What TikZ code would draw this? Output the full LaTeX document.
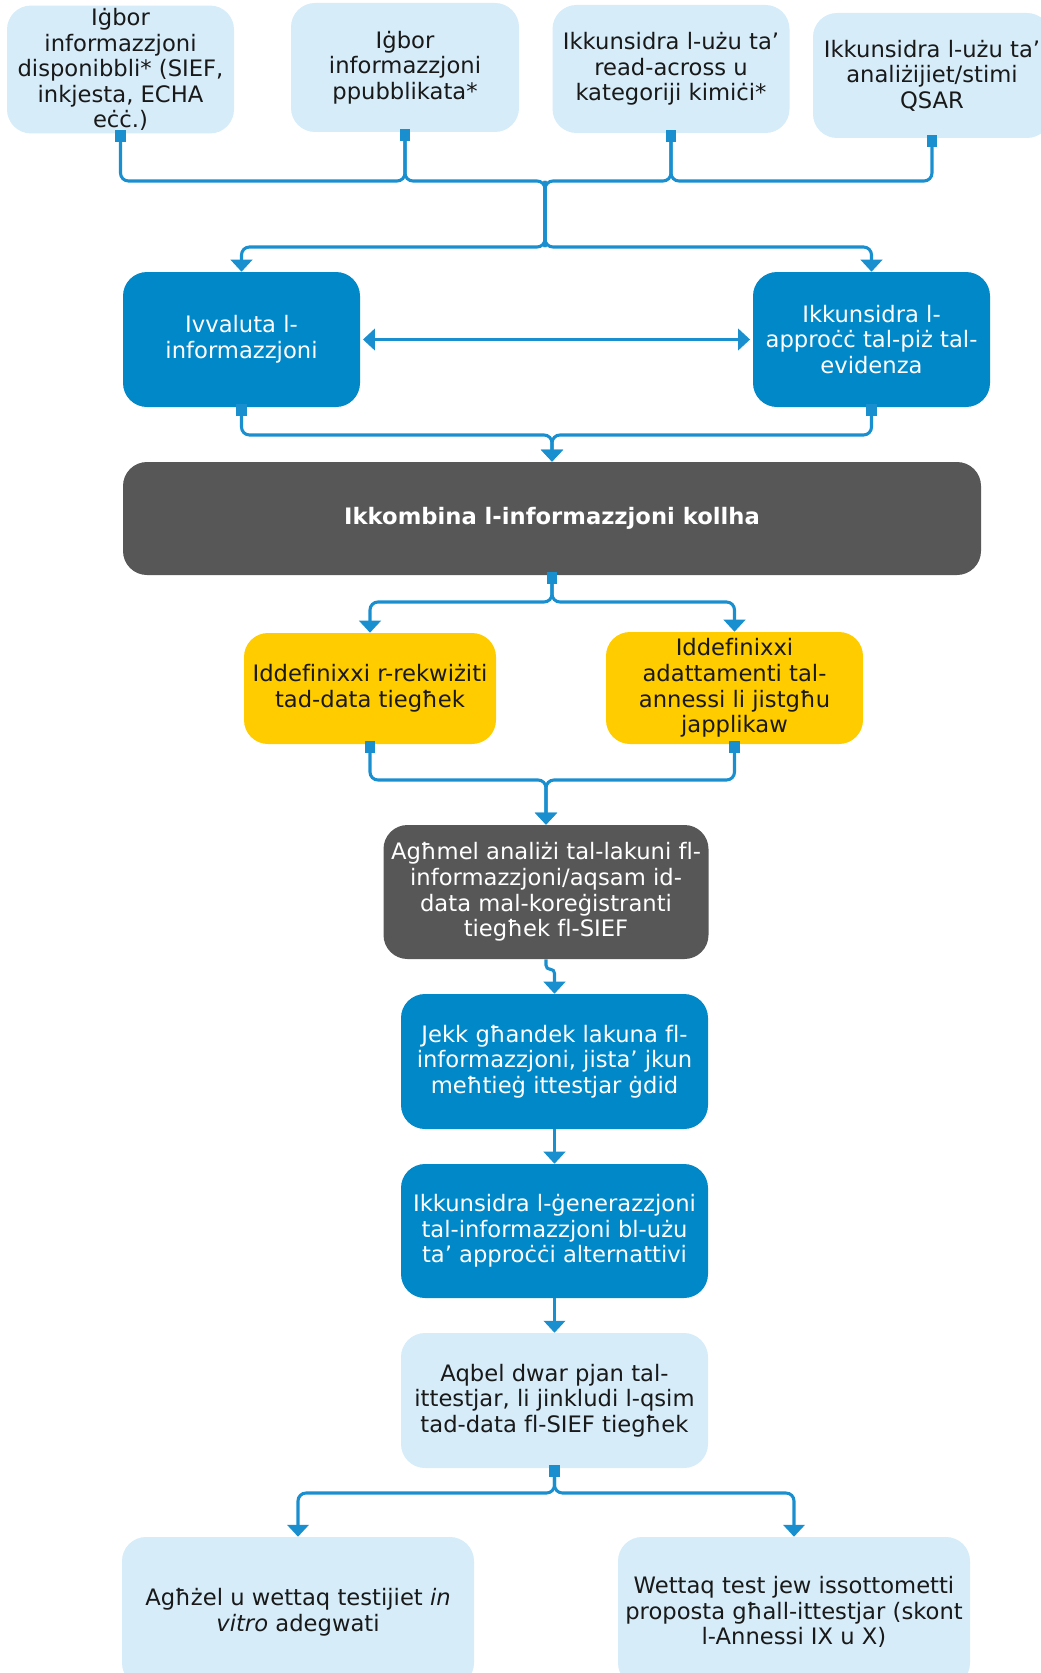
\documentclass[tikz,border=0pt]{standalone}
\usepackage{fontspec}
\setmainfont{DejaVu Sans}[Ligatures=NoCommon]
\usetikzlibrary{positioning, arrows.meta}

\definecolor{paleblue}{HTML}{D6ECF9}
\definecolor{midblue}{HTML}{0088C9}
\definecolor{linkblue}{HTML}{1A8FCF}
\definecolor{darkgrey}{HTML}{575757}
\definecolor{gold}{HTML}{FFCC00}

\tikzset{
  box/.style={rounded corners=18pt, align=center, inner sep=2pt, font=\fontsize{17}{19.2}\selectfont},
  palebox/.style={box, fill=paleblue, text=black!90},
  bluebox/.style={box, fill=midblue, text=white},
  darkbox/.style={box, fill=darkgrey, text=white},
  goldbox/.style={box, fill=gold, text=black!90},
  sz/.style 2 args={minimum width=#1*0.75pt, minimum height=#2*0.75pt},
  sq/.style={fill=linkblue, minimum width=8pt, minimum height=9pt, inner sep=0pt, yshift=-2pt},
  link/.style={draw=linkblue, line width=2.3pt, rounded corners=6pt},
  arr/.style={-{Triangle[width=16pt,length=9pt]}}
}

\begin{document}
\begin{tikzpicture}[x=0.75pt, y=-0.75pt]
  \useasboundingbox (0,0) rectangle (1041,1673);

  \node (G1) [palebox, sz={227}{125}] at (120.5,69.5) {Iġbor\\informazzjoni\\disponibbli* (SIEF,\\inkjesta, ECHA\\eċċ.)};
  \node (G2) [palebox, sz={228}{129}] at (405,67.5) {Iġbor\\informazzjoni\\ppubblikata*};
  \node (RA) [palebox, sz={237}{128}] at (671,69) {Ikkunsidra l-użu ta’\\read-across u\\kategoriji kimiċi*};
  \node (QS) [palebox, sz={238}{125}] at (932,75.5) {Ikkunsidra l-użu ta’\\analiżijiet/stimi\\QSAR};

  \node (EV) [bluebox, sz={237}{135}] at (241.5,339.5) {Ivvaluta l-\\informazzjoni};
  \node (WE) [bluebox, sz={237}{135}] at (871.5,339.5) {Ikkunsidra l-\\approċċ tal-piż tal-\\evidenza};

  \node (KB) [darkbox, sz={858}{113}] at (552,518.5) {\textbf{Ikkombina l-informazzjoni kollha}};

  \node (RQ) [goldbox, sz={252}{111}] at (370,688.5) {Iddefinixxi r-rekwiżiti\\tad-data tiegħek};
  \node (AD) [goldbox, sz={257}{112}] at (734.5,688) {Iddefinixxi\\adattamenti tal-\\annessi li jistgħu\\japplikaw};

  \node (GA) [darkbox, sz={325}{134}] at (546,892) {Agħmel analiżi tal-lakuni fl-\\informazzjoni/aqsam id-\\data mal-koreġistranti\\tiegħek fl-SIEF};
  \node (LK) [bluebox, sz={307}{135}] at (554.5,1061.5) {Jekk għandek lakuna fl-\\informazzjoni, jista’ jkun\\meħtieġ ittestjar ġdid};
  \node (GN) [bluebox, sz={307}{134}] at (554.5,1231) {Ikkunsidra l-ġenerazzjoni\\tal-informazzjoni bl-użu\\ta’ approċċi alternattivi};
  \node (PJ) [palebox, sz={307}{135}] at (554.5,1400.5) {Aqbel dwar pjan tal-\\ittestjar, li jinkludi l-qsim\\tad-data fl-SIEF tiegħek};

  \node (IV) [palebox, sz={352}{150}] at (298,1612) {Agħżel u wettaq testijiet \textit{in}\\\textit{vitro} adegwati};
  \node (TS) [palebox, sz={352}{150}] at (794,1612) {Wettaq test jew issottometti\\proposta għall-ittestjar (skont\\l-Annessi IX u X)};

  \coordinate (T1) at (545,181);
  \coordinate (T2) at (545,247);
  \coordinate (M2) at (552,435);
  \coordinate (S3) at (552,602);
  \coordinate (M4) at (546,780);
  \coordinate (S5) at (554.5,1493);

  \draw [link] (G1.south) |- (G2.south |- T1) -- (G2.south);
  \draw [link] (G2.south) |- (T1) -- (T2);
  \draw [link] (QS.south) |- (RA.south |- T1) -- (RA.south);
  \draw [link] (RA.south) |- (T1) -- (T2);
  \draw [link, arr] (T1) -- (T2) -| (EV.north);
  \draw [link, arr] (T1) -- (T2) -| (WE.north);

  \draw [link, {Triangle[width=16pt,length=9pt]}-{Triangle[width=16pt,length=9pt]}] ([xshift=2pt]EV.east) -- ([xshift=-2pt]WE.west);

  \draw [link, arr] (EV.south) |- (M2) -- (KB.north);
  \draw [link, arr] (WE.south) |- (M2) -- (KB.north);

  \draw [link, arr] (KB.south) -- (S3) -| (RQ.north);
  \draw [link, arr] (KB.south) -- (S3) -| (AD.north);

  \draw [link, arr] (RQ.south) |- (M4) -- (GA.north);
  \draw [link, arr] (AD.south) |- (M4) -- (GA.north);

  \draw [link, arr, rounded corners=3pt] (GA.south) -- ++(0,10) -| (LK.north);
  \draw [link, arr] (LK) -- (GN);
  \draw [link, arr] (GN) -- (PJ);

  \draw [link, arr] (PJ.south) -- (S5) -| (IV.north);
  \draw [link, arr] (PJ.south) -- (S5) -| (TS.north);

  \node (G1s) [sq] at (G1.south) {};
  \node (G2s) [sq] at (G2.south) {};
  \node (RAs) [sq] at (RA.south) {};
  \node (QSs) [sq] at (QS.south) {};
  \node (EVs) [sq] at (EV.south) {};
  \node (WEs) [sq] at (WE.south) {};
  \node (KBs) [sq] at (KB.south) {};
  \node (RQs) [sq] at (RQ.south) {};
  \node (ADs) [sq] at (AD.south) {};
  \node (PJs) [sq] at (PJ.south) {};
\end{tikzpicture}
\end{document}
